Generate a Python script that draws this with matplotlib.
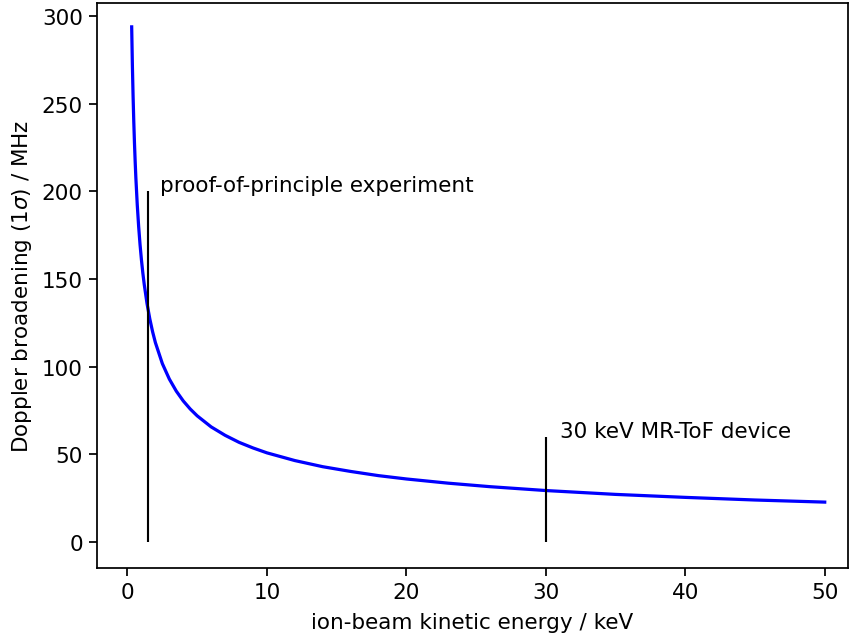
import matplotlib
matplotlib.use('Agg')
import matplotlib.pyplot as plt

# energia (keV) y ensanchamiento Doppler (MHz)
energia = [0.3, 0.35, 0.4, 0.45, 0.5, 0.55, 0.6, 0.7, 0.8, 0.9, 1.0, 1.1, 1.2, 1.4, 1.6, 1.8,
           2.0, 2.5, 3.0, 3.5, 4.0, 4.5, 5.0, 6.0, 7.0, 8.0, 9.0, 10.0, 12.0, 14.0,
           16.0, 18.0, 20.0, 23.0, 26.0, 30.0, 35.0, 40.0, 45.0, 50.0]
ensanchamiento = [293.9, 272.1, 254.6, 240.0, 227.7, 217.1, 207.8, 192.4, 180.0, 169.7, 161.0,
                  153.5, 147.0, 136.1, 127.3, 120.0, 113.8, 101.8, 93.0, 86.1, 80.5, 75.9,
                  72.0, 65.7, 60.9, 56.9, 53.7, 50.9, 46.5, 43.0, 40.3, 37.9, 36.0,
                  33.6, 31.6, 29.4, 27.2, 25.5, 24.0, 22.8]

marcas_x = [1.5, 30]
marcas_alto = [200, 60]
marcas_texto = ['proof-of-principle experiment', '30 keV MR-ToF device']
marcas_dx = [0.8, 1.0]

plt.rcParams['font.size'] = 11.7
plt.rcParams['axes.linewidth'] = 0.95
plt.rcParams['xtick.major.size'] = 4.1
plt.rcParams['ytick.major.size'] = 4.1
plt.rcParams['xtick.major.width'] = 0.95
plt.rcParams['ytick.major.width'] = 0.95

fig = plt.figure(figsize=(6.4, 4.8), dpi=132.7)
ax = fig.add_axes([0.114, 0.107, 0.885, 0.887])

ax.plot(energia, ensanchamiento, color='blue', linewidth=1.75)
for x, h, t, dx in zip(marcas_x, marcas_alto, marcas_texto, marcas_dx):
    ax.vlines(x, 0, h, color='black', linewidth=1.15)
    ax.text(x + dx, h, t, va='baseline')

ax.set_xlim(-2.2, 51.7)
ax.set_ylim(-14.7, 307.6)
ax.set_xlabel('ion-beam kinetic energy / keV', labelpad=5.5)
ax.set_ylabel(r'Doppler broadening (1$\sigma$) / MHz')

plt.savefig('out.png', dpi=132.7)
